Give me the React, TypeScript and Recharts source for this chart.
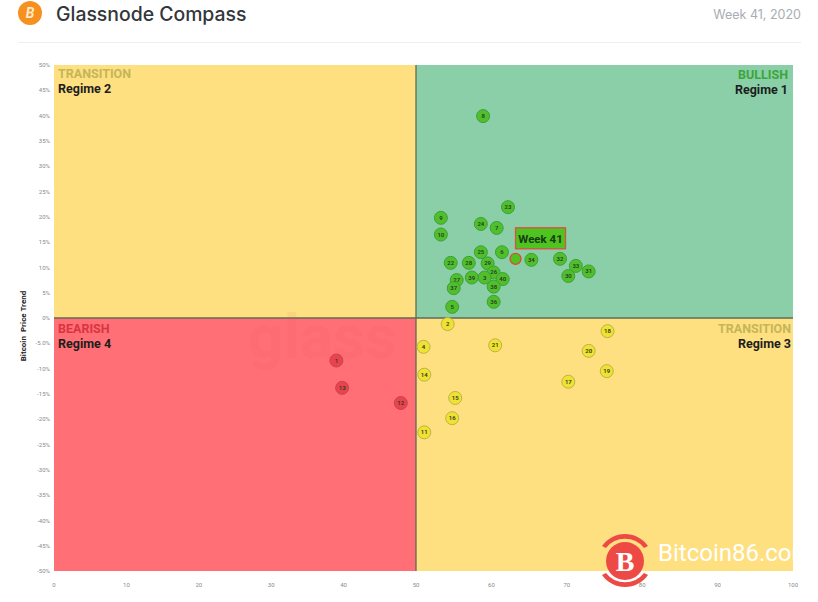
import React from "react";
import {
  ScatterChart,
  Scatter,
  XAxis,
  YAxis,
  ReferenceArea,
  ReferenceLine,
} from "recharts";

const xTicks = [0, 10, 20, 30, 40, 50, 60, 70, 80, 90, 100];
const yTicks = [
  50, 45, 40, 35, 30, 25, 20, 15, 10, 5, 0, -5, -10, -15, -20, -25, -30, -35,
  -40, -45, -50,
];

// week number, score, price trend
const bullishWeeks = [8, 23, 9, 24, 7, 10, 25, 6, 34, 32, 33, 31, 30, 22, 28, 29, 26, 40, 3, 39, 27, 37, 38, 36, 5];
const bullishX = [58.9, 62.2, 53.3, 58.6, 60.7, 53.3, 58.6, 61.4, 65.3, 69.1, 71.2, 72.9, 70.2, 54.6, 57.0, 59.5, 60.3, 61.5, 59.1, 57.4, 55.4, 55.0, 60.3, 60.3, 54.8];
const bullishY = [39.9, 21.9, 19.8, 18.6, 17.8, 16.5, 13.0, 13.0, 11.5, 11.7, 10.3, 9.2, 8.3, 10.9, 10.9, 10.8, 9.0, 7.7, 8.0, 8.0, 7.5, 5.9, 6.2, 3.2, 2.2];

const transitionWeeks = [2, 18, 4, 21, 20, 14, 19, 17, 15, 16, 11];
const transitionX = [54.2, 75.4, 51.0, 60.5, 72.9, 51.1, 75.3, 70.2, 55.2, 54.8, 51.1];
const transitionY = [-1.2, -2.6, -5.7, -5.4, -6.5, -11.2, -10.5, -12.6, -15.8, -19.8, -22.6];

const bearishWeeks = [1, 13, 12];
const bearishX = [39.0, 39.8, 47.9];
const bearishY = [-8.4, -13.8, -16.8];

const currentWeek = [41];
const currentX = [63.2];
const currentY = [11.7];

const toRows = (weeks: number[], xs: number[], ys: number[]) =>
  weeks.map((week, i) => ({ week, x: xs[i], y: ys[i] }));

// the x axis of the source is not quite even: 50 sits left of the middle
const X_MID_SHARE = 362 / 739;

function pieceScale(dom: number[] = [0, 100], rng: number[] = [0, 1]) {
  let d = dom;
  let r = rng;
  const s: any = (v: number) => {
    const mid = (d[0] + d[1]) / 2;
    const share =
      v <= mid
        ? ((v - d[0]) / (mid - d[0])) * X_MID_SHARE
        : X_MID_SHARE + ((v - mid) / (d[1] - mid)) * (1 - X_MID_SHARE);
    return r[0] + share * (r[1] - r[0]);
  };
  s.domain = (n?: number[]) => {
    if (!n) return d;
    d = n;
    return s;
  };
  s.range = (n?: number[]) => {
    if (!n) return r;
    r = n;
    return s;
  };
  s.ticks = () => xTicks;
  s.copy = () => pieceScale(d, r);
  return s;
}

const dotShape = (fill: string, stroke: string) => (props: any) => {
  const { cx, cy, payload } = props;
  return (
    <g>
      <circle cx={cx} cy={cy} r={6.5} fill={fill} stroke={stroke} strokeWidth={1} />
      <text
        x={cx}
        y={cy + 2}
        textAnchor="middle"
        fontSize={6}
        fontWeight={600}
        fill="#2c3a22"
        fontFamily="Roboto"
      >
        {payload.week}
      </text>
    </g>
  );
};

const currentShape = (props: any) => {
  const { cx, cy, payload } = props;
  return (
    <g>
      <rect
        x={cx}
        y={cy - 31}
        width={50}
        height={21}
        fill="#4fc31f"
        stroke="#dc4f45"
        strokeWidth={1.3}
      />
      <text
        x={cx + 25}
        y={cy - 16}
        textAnchor="middle"
        fontSize={11.5}
        fontWeight={700}
        fill="#173d12"
        fontFamily="Roboto"
      >
        Week {payload.week}
      </text>
      <circle cx={cx} cy={cy} r={5.5} fill="#4fc31f" stroke="#e0473f" strokeWidth={1.3} />
    </g>
  );
};

const cornerLabel = (
  style: React.CSSProperties,
  head: string,
  headColor: string,
  regime: string,
) => (
  <div
    style={{
      position: "absolute",
      fontFamily: "Roboto",
      fontWeight: 700,
      lineHeight: "15px",
      fontSize: 12.5,
      ...style,
    }}
  >
    <div style={{ color: headColor }}>{head}</div>
    <div style={{ color: "#1d1d1d" }}>{regime}</div>
  </div>
);

export default function App() {
  return (
    <div
      style={{
        position: "absolute",
        left: 0,
        top: 0,
        width: 818,
        height: 602,
        overflow: "hidden",
        background: "#fff",
        fontFamily: "Inter",
      }}
    >
      <svg width={30} height={30} style={{ position: "absolute", left: 15, top: -2 }}>
        <circle cx={15} cy={15} r={12} fill="#f6901e" />
        <text
          x={15}
          y={20}
          textAnchor="middle"
          fontSize={14}
          fontWeight={700}
          fontStyle="italic"
          fill="#ffe9c9"
          fontFamily="Roboto"
        >
          B
        </text>
      </svg>
      <div
        style={{
          position: "absolute",
          left: 56,
          top: 2,
          fontSize: 19.4,
          fontWeight: 500,
          color: "#33363a",
          lineHeight: "25px",
          whiteSpace: "nowrap",
        }}
      >
        Glassnode Compass
      </div>
      <div
        style={{
          position: "absolute",
          right: 17,
          top: 7,
          fontSize: 12.5,
          color: "#a9adb1",
          lineHeight: "16px",
          whiteSpace: "nowrap",
        }}
      >
        Week 41, 2020
      </div>
      <div
        style={{
          position: "absolute",
          left: 18,
          top: 42,
          width: 783,
          height: 1,
          background: "#eeeeee",
        }}
      />

      <ScatterChart
        width={818}
        height={602}
        margin={{ top: 65, right: 25, bottom: 0, left: 0 }}
        style={{ position: "absolute", left: 0, top: 0 }}
      >
        <XAxis
          type="number"
          dataKey="x"
          domain={[0, 100]}
          ticks={xTicks}
          scale={pieceScale() as any}
          height={31}
          axisLine={false}
          tickLine={false}
          tickSize={10}
          tick={{ fontSize: 6, fill: "#8a8a8a", fontFamily: "Roboto" }}
          interval={0}
        />
        <YAxis
          type="number"
          dataKey="y"
          domain={[-50, 50]}
          ticks={yTicks}
          width={54}
          axisLine={false}
          tickLine={false}
          tickSize={2}
          tick={{ fontSize: 6, fill: "#8a8a8a", fontFamily: "Roboto" }}
          tickFormatter={(v: number) => (v === -5 ? "-5.0%" : `${v}%`)}
          interval={0}
          label={() => (
            <text
              x={26}
              y={326}
              transform="rotate(-90 26 326)"
              textAnchor="middle"
              fontSize={8}
              fontWeight={700}
              fill="#222"
              fontFamily="Roboto"
            >
              {"Bitcoin\u00a0\u00a0Price Trend"}
            </text>
          )}
        />
        <ReferenceArea x1={0} x2={50} y1={0} y2={50} fill="#fee081" fillOpacity={1} stroke="none" />
        <ReferenceArea x1={50} x2={100} y1={0} y2={50} fill="#8acfa8" fillOpacity={1} stroke="none" />
        <ReferenceArea x1={0} x2={50} y1={-50} y2={0} fill="#ff6f75" fillOpacity={1} stroke="none" />
        <ReferenceArea x1={50} x2={100} y1={-50} y2={0} fill="#fee081" fillOpacity={1} stroke="none" />
        <ReferenceLine x={50} stroke="#5f6a58" strokeWidth={1.3} />
        <ReferenceLine y={0} stroke="#5f6a58" strokeWidth={1.3} />
        <Scatter
          data={toRows(bullishWeeks, bullishX, bullishY)}
          shape={dotShape("#4fc02c", "#3f9f3a")}
          isAnimationActive={false}
        />
        <Scatter
          data={toRows(transitionWeeks, transitionX, transitionY)}
          shape={dotShape("#efe232", "#bdb24a")}
          isAnimationActive={false}
        />
        <Scatter
          data={toRows(bearishWeeks, bearishX, bearishY)}
          shape={dotShape("#e8434e", "#c9434e")}
          isAnimationActive={false}
        />
        <Scatter
          data={toRows(currentWeek, currentX, currentY)}
          shape={currentShape}
          isAnimationActive={false}
        />
      </ScatterChart>

      {cornerLabel({ left: 58, top: 66 }, "TRANSITION", "#c4b658", "Regime 2")}
      {cornerLabel({ right: 30, top: 67, textAlign: "right" }, "BULLISH", "#3da53a", "Regime 1")}
      {cornerLabel({ left: 58, top: 321 }, "BEARISH", "#d8353f", "Regime 4")}
      {cornerLabel({ right: 27, top: 321, textAlign: "right" }, "TRANSITION", "#c4b658", "Regime 3")}

      <div
        style={{
          position: "absolute",
          left: 248,
          top: 318,
          fontSize: 62,
          fontWeight: 700,
          color: "rgba(225,80,90,0.08)",
          lineHeight: "38px",
          fontFamily: "Roboto",
          whiteSpace: "nowrap",
        }}
      >
        glass
      </div>

      <svg width={60} height={62} style={{ position: "absolute", left: 597, top: 530 }}>
        <path d="M5 16 A28 28 0 0 1 51 16 L47 18 A24 24 0 0 0 9 18 Z" fill="#ee4a45" />
        <path d="M5 45 A28 28 0 0 0 51 45 L47 43 A24 24 0 0 1 9 43 Z" fill="#ee4a45" />
        <circle cx={28} cy={31} r={19} fill="#ee4a45" />
        <text
          x={28}
          y={41}
          textAnchor="middle"
          fontSize={28}
          fontWeight={700}
          fill="#fff"
          fontFamily="Liberation Serif"
        >
          B
        </text>
      </svg>
      <div
        style={{
          position: "absolute",
          left: 658,
          top: 538,
          fontSize: 24,
          color: "#fff",
          lineHeight: "30px",
          fontFamily: "Roboto",
          whiteSpace: "nowrap",
        }}
      >
        Bitcoin86.com
      </div>
    </div>
  );
}
